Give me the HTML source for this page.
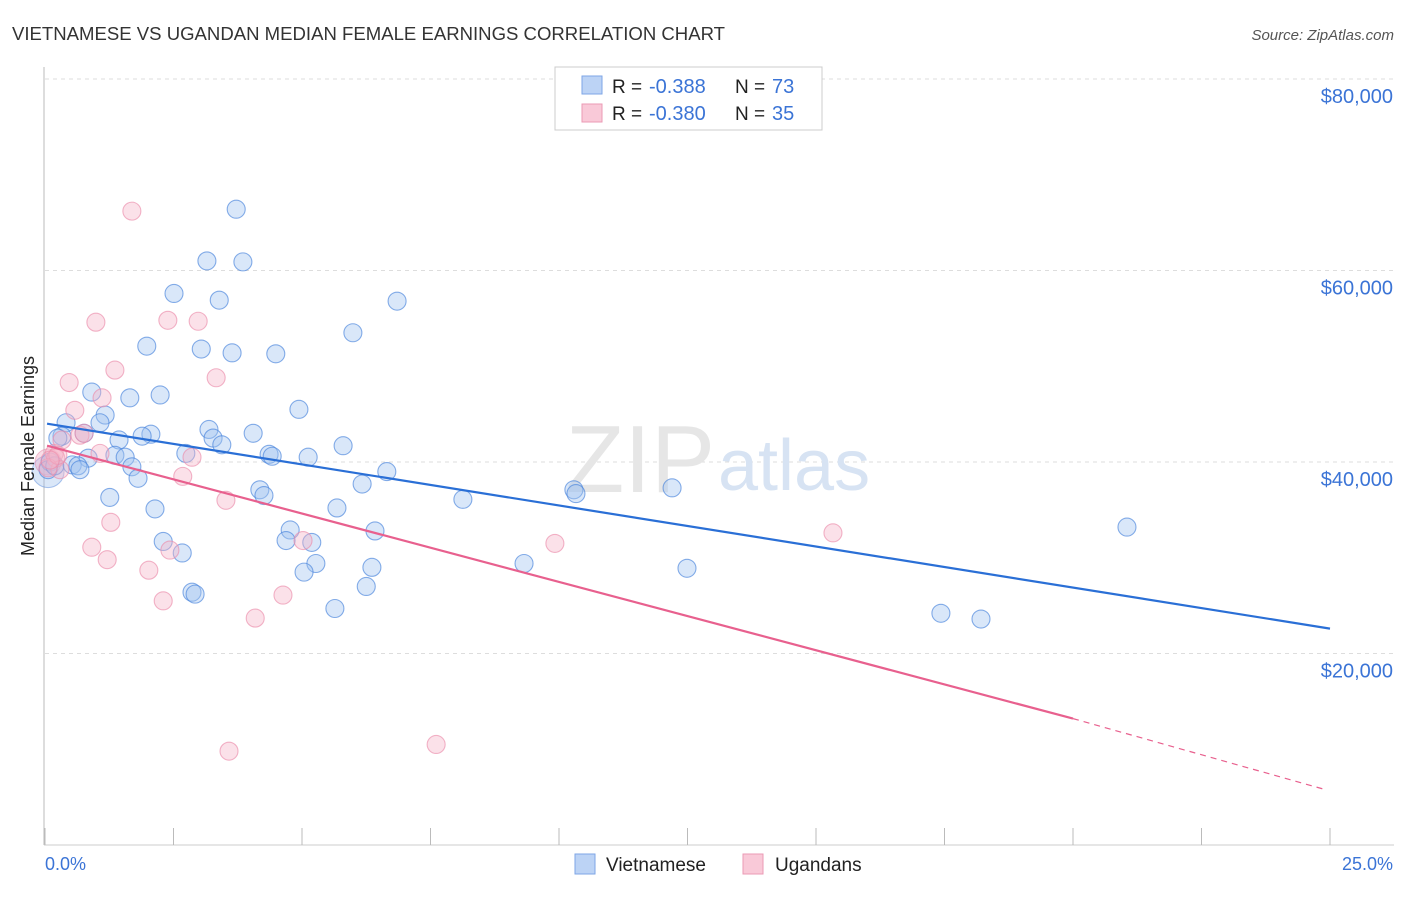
<!DOCTYPE html>
<html><head><meta charset="utf-8"><style>
body{margin:0;background:#fff;font-family:"Liberation Sans",sans-serif}
svg text{font-family:"Liberation Sans",sans-serif}
</style></head><body>
<svg id="chart" width="1406" height="892" viewBox="0 0 1406 892">
<text x="12" y="40" font-size="18" fill="#333" textLength="713" lengthAdjust="spacingAndGlyphs">VIETNAMESE VS UGANDAN MEDIAN FEMALE EARNINGS CORRELATION CHART</text>
<text x="1394" y="40" font-size="15" fill="#555" font-style="italic" text-anchor="end">Source: ZipAtlas.com</text>
<g id="grid"></g>
<text x="715" y="492" font-size="96" fill="#e6e6e6" font-family="Liberation Serif" text-anchor="end">ZIP</text>
<text x="718" y="490" font-size="72" fill="#d7e3f3">atlas</text>
<line x1="44" y1="67" x2="44" y2="845" stroke="#bbb"/>
<line x1="44" y1="845" x2="1394" y2="845" stroke="#ccc"/>
<g id="ticks"></g>
<g id="pts"></g>
<g id="lines"></g>
<text transform="translate(34,456) rotate(-90)" font-size="18" fill="#222" text-anchor="middle">Median Female Earnings</text>
<text x="45" y="870" font-size="18" fill="#3b74d6">0.0%</text>
<text x="1393" y="870" font-size="18" fill="#3b74d6" text-anchor="end">25.0%</text>
<g>
<rect x="555" y="67" width="267" height="63" fill="#fff" stroke="#ccc"/>
<rect x="582" y="76" width="20" height="18" fill="#bcd3f5" stroke="#7ea6e6"/>
<rect x="582" y="104" width="20" height="18" fill="#f9c9d8" stroke="#eb9ab4"/>
<text x="612" y="93" font-size="19" fill="#222">R =</text>
<text x="649" y="93" font-size="20" fill="#3b74d6">-0.388</text>
<text x="735" y="93" font-size="19" fill="#222">N =</text>
<text x="772" y="93" font-size="20" fill="#3b74d6">73</text>
<text x="612" y="120" font-size="19" fill="#222">R =</text>
<text x="649" y="120" font-size="20" fill="#3b74d6">-0.380</text>
<text x="735" y="120" font-size="19" fill="#222">N =</text>
<text x="772" y="120" font-size="20" fill="#3b74d6">35</text>
</g>
<g>
<rect x="575" y="854" width="20" height="20" fill="#bcd3f5" stroke="#7ea6e6"/>
<text x="606" y="871" font-size="19" fill="#222">Vietnamese</text>
<rect x="743" y="854" width="20" height="20" fill="#f9c9d8" stroke="#eb9ab4"/>
<text x="775" y="871" font-size="19" fill="#222">Ugandans</text>
</g>
</svg>
<script>
const yTicks=[20000,40000,60000,80000];
const yTickLabels=["$20,000","$40,000","$60,000","$80,000"];
const xTicks=[0,2.5,5,7.5,10,12.5,15,17.5,20,22.5,25];
const blueX=[3.72,3.15,3.85,2.51,3.39,6.85,5.99,1.98,3.04,3.64,4.49,0.91,1.65,2.24,4.94,0.41,1.17,1.07,0.33,0.76,3.19,2.06,1.89,1.44,3.27,4.05,3.44,5.80,2.74,4.36,4.42,5.12,1.36,1.56,0.84,0.53,0.64,1.69,0.68,6.65,1.81,6.17,4.18,4.26,1.26,8.13,10.29,10.33,12.20,2.14,5.68,4.77,6.42,4.69,2.30,5.19,2.67,5.27,9.32,6.36,5.04,12.49,21.05,6.25,2.86,2.92,5.64,17.43,18.21,0.10,0.25,0.06,0.19];
const blueY=[66.4,61.0,60.9,57.6,56.9,56.8,53.5,52.1,51.8,51.4,51.3,47.3,46.7,47.0,45.5,44.1,44.9,44.1,42.7,43.0,43.4,42.9,42.7,42.3,42.5,43.0,41.8,41.7,40.9,40.8,40.6,40.5,40.7,40.5,40.4,39.7,39.6,39.5,39.2,39.0,38.3,37.7,37.1,36.5,36.3,36.1,37.1,36.7,37.3,35.1,35.2,32.9,32.8,31.8,31.7,31.6,30.5,29.4,29.4,29.0,28.5,28.9,33.2,27.0,26.4,26.2,24.7,24.2,23.6,40.0,42.5,39.2,39.6];
const pinkX=[1.69,0.99,2.39,2.98,1.36,3.33,0.47,0.58,1.11,0.68,0.76,2.86,0.18,0.21,1.07,2.68,0.29,3.52,1.28,0.91,1.21,2.02,2.43,5.02,9.92,15.33,2.30,4.63,4.09,3.58,7.61,0.06,0.25,0.10,0.33];
const pinkY=[66.2,54.6,54.8,54.7,49.6,48.8,48.3,45.4,46.7,42.8,43.0,40.5,40.9,40.4,40.9,38.5,39.2,36.0,33.7,31.1,29.8,28.7,30.8,31.8,31.5,32.6,25.5,26.1,23.7,9.8,10.5,39.4,40.7,40.2,42.3];
const blueTrend=[44.0,22.6];
const pinkTrend=[41.7,13.2,5.8];
const pinkTrendX=[0,20,24.9];
const X=v=>45+v*(1285/25);
const Y=v=>845-v*(191.5/20000);
const NS="http://www.w3.org/2000/svg";
function mk(parent,tag,attrs){const e=document.createElementNS(NS,tag);for(const k in attrs)e.setAttribute(k,attrs[k]);document.getElementById(parent).appendChild(e);return e;}
yTicks.forEach((t,i)=>{
  const l=mk('grid','line',{x1:45,x2:1394,y1:Y(t),y2:Y(t),stroke:'#ddd','stroke-dasharray':'4,4'});
  
  
  const tx=mk('grid','text',{x:1393,y:Y(t)+24,'font-size':20,fill:'#3b74d6','text-anchor':'end'});
  tx.textContent=yTickLabels[i];
  
  
});
xTicks.forEach(t=>{
  const l=mk('ticks','line',{x1:X(t),x2:X(t),y1:828,y2:845,stroke:'#bbb'});
  
  
});
const bb=mk('pts','circle',{cx:X(0.06),cy:Y(39000),r:16,fill:'rgba(150,185,235,0.35)',stroke:'rgba(90,140,220,0.5)'});


const pb=mk('pts','circle',{cx:X(0.06),cy:Y(40000),r:13,fill:'rgba(240,170,195,0.4)',stroke:'rgba(230,130,165,0.5)'});


blueX.forEach((x,i)=>{
  const c=mk('pts','circle',{cx:X(x),cy:Y(blueY[i]*1000),r:9,fill:'rgba(160,195,240,0.4)',stroke:'rgba(70,130,220,0.65)','stroke-width':1.1});
  
  
});
pinkX.forEach((x,i)=>{
  const c=mk('pts','circle',{cx:X(x),cy:Y(pinkY[i]*1000),r:9,fill:'rgba(245,180,200,0.4)',stroke:'rgba(235,140,170,0.65)','stroke-width':1.1});
  
  
});
const bl=mk('lines','line',{x1:X(0.04),y1:Y(blueTrend[0]*1000),x2:X(25),y2:Y(blueTrend[1]*1000),stroke:'#2a6fd6','stroke-width':2.2});


const pl=mk('lines','line',{x1:X(pinkTrendX[0]+0.04),y1:Y(pinkTrend[0]*1000),x2:X(pinkTrendX[1]),y2:Y(pinkTrend[1]*1000),stroke:'#e8608e','stroke-width':2.2});


const pd=mk('lines','line',{x1:X(pinkTrendX[1]),y1:Y(pinkTrend[1]*1000),x2:X(pinkTrendX[2]),y2:Y(pinkTrend[2]*1000),stroke:'#e8608e','stroke-width':1.2,'stroke-dasharray':'6,5'});


</script>
</body></html>
